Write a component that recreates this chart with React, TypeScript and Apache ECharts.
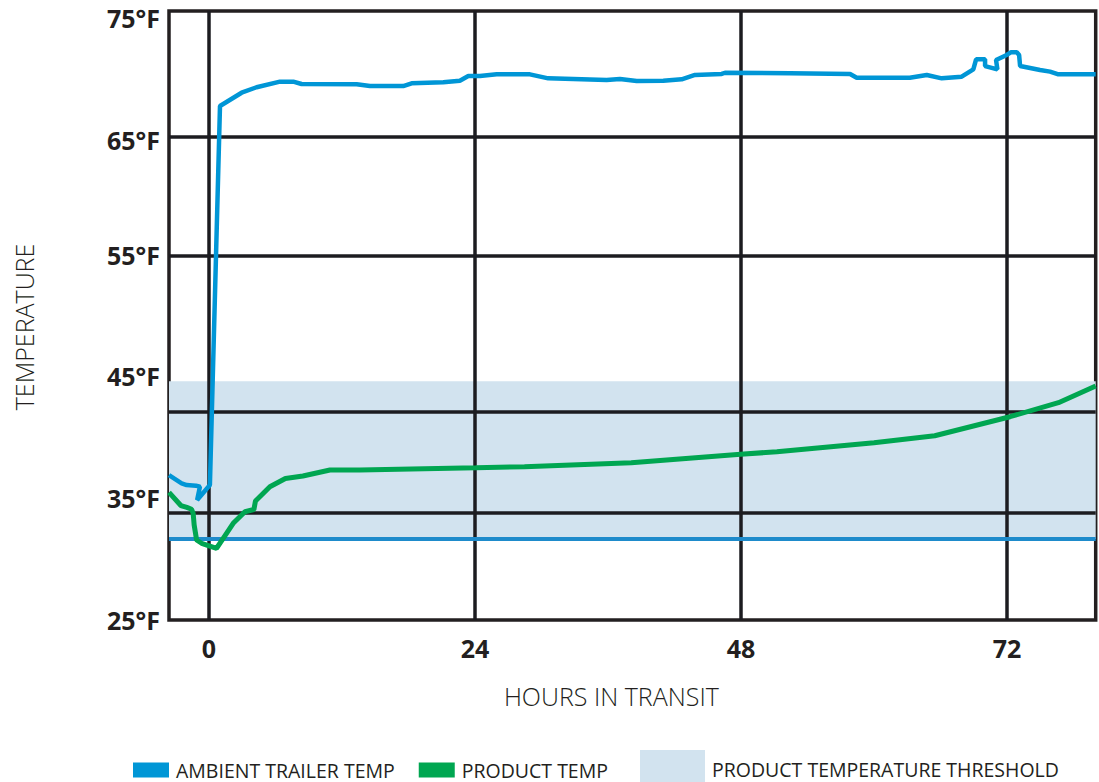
import React, { useEffect, useRef } from "react";
import * as echarts from "echarts";

// ---- data ----
const hourTicks = [0, 24, 48, 72];
const lowerTempTicks = [25, 35, 45, 55];
const upperTempTicks = [65, 75];
const hourRange = [-3.6, 80];
const tempRange = [25, 75];

const ambientHours = [
  -3.6, -2.46, -2.01, -1.17, -0.81, -1.06, 0.09, 1.0, 2.95, 4.3, 6.41, 7.61, 8.36, 13.33, 14.53,
  17.53, 18.29, 21.14, 22.64, 23.4, 24.45, 25.96, 28.96, 30.61, 35.88, 37.08, 38.59, 40.99, 42.65,
  43.85, 46.26, 46.56, 52.42, 57.84, 58.44, 63.23, 64.76, 66.11, 67.91, 68.96, 69.21, 70.02, 70.02,
  71.13, 71.01, 71.97, 72.34, 72.88, 73.09, 73.18, 74.98, 75.88, 76.63, 80,
];
const ambientTemps = [
  36.9, 36.22, 36.08, 36.03, 35.94, 34.85, 36.08, 67.2, 68.29, 68.74, 69.2, 69.2, 69.01, 68.98, 68.84,
  68.84, 69.06, 69.15, 69.28, 69.66, 69.66, 69.8, 69.8, 69.47, 69.33, 69.42, 69.25, 69.28, 69.39,
  69.75, 69.83, 69.93, 69.89, 69.83, 69.52, 69.52, 69.75, 69.47, 69.61, 70.21, 71.03, 71.03, 70.48,
  70.21, 70.98, 71.39, 71.61, 71.61, 71.39, 70.48, 70.16, 70.02, 69.8, 69.8,
];

const productHours = [
  -3.6, -2.53, -1.99, -1.56, -1.42, -1.33, -1.11, -0.66, 0.69, 1.29, 2.19, 3.25, 4.06, 4.2, 5.5,
  6.9, 8.48, 10.92, 13.62, 24.09, 28.47, 38.1, 47.96, 51.24, 60.0, 65.48, 72.27, 76.64, 80,
];
const productTemps = [
  35.48, 34.4, 34.24, 34.09, 33.76, 32.8, 31.57, 31.3, 30.89, 31.71, 32.94, 33.89, 34.07, 34.77, 35.94,
  36.62, 36.82, 37.32, 37.32, 37.5, 37.59, 37.91, 38.6, 38.82, 39.56, 40.13, 41.69, 42.84, 44.21,
];

const thresholdRange = [31.65, 44.6];
const horizontalRules = [64.7, 54.9, 42.1, 33.8];
const verticalRules = [0, 24, 48, 72];

const seriesNames = ["AMBIENT TRAILER TEMP", "PRODUCT TEMP", "PRODUCT TEMPERATURE THRESHOLD"];

const FONT = "'Open Sans', 'Noto Sans', sans-serif";
const INK = "#231f20";

export default function App() {
  const ref = useRef<HTMLDivElement>(null);

  useEffect(() => {
    if (!ref.current) return;
    const chart = echarts.init(ref.current, null, { renderer: "svg" });
    const zip = (xs: number[], ys: number[]) => xs.map((x, i) => [x, ys[i]]);

    const tempLabelBase = {
      formatter: (v: number) => `${v}°F`,
      fontFamily: FONT,
      fontSize: 25,
      fontWeight: "bold",
      color: INK,
      margin: 9,
    };

    chart.setOption({
      animation: false,
      grid: {
        left: 169,
        right: 3.3,
        top: 11,
        bottom: 162,
        show: true,
        borderColor: INK,
        borderWidth: 3.5,
      },
      legend: [
        {
          data: [seriesNames[0], seriesNames[1]],
          left: 133,
          top: 760,
          padding: 0,
          itemWidth: 36,
          itemHeight: 15,
          itemGap: 24,
          icon: "rect",
          selectedMode: false,
          textStyle: { fontFamily: FONT, fontSize: 19.5, color: INK, padding: [0, 0, 0, 2] },
        },
        {
          data: [seriesNames[2]],
          left: 640,
          top: 750,
          padding: 0,
          itemWidth: 65,
          itemHeight: 32,
          icon: "rect",
          selectedMode: false,
          formatter: "{t|{name}}",
          textStyle: {
            fontFamily: FONT,
            fontSize: 19.5,
            color: INK,
            rich: {
              t: {
                fontFamily: FONT,
                fontSize: 19.5,
                color: INK,
                padding: [7, 0, 0, 2],
              },
            },
          },
        },
      ],
      xAxis: {
        type: "value",
        min: hourRange[0],
        max: hourRange[1],
        name: "HOURS IN TRANSIT",
        nameLocation: "middle",
        nameGap: 63,
        nameTextStyle: {
          fontFamily: FONT,
          fontSize: 25,
          fontWeight: 300,
          color: INK,
          padding: [0, 42, 0, 0],
        },
        axisLine: { show: false },
        axisTick: { show: false, customValues: hourTicks },
        splitLine: { show: false },
        axisLabel: {
          customValues: hourTicks,
          fontFamily: FONT,
          fontSize: 25,
          fontWeight: "bold",
          color: INK,
          margin: 15,
        },
      },
      yAxis: [
        {
          type: "value",
          min: tempRange[0],
          max: tempRange[1],
          name: "TEMPERATURE",
          nameLocation: "middle",
          nameGap: 133,
          nameRotate: 90,
          nameTextStyle: {
            fontFamily: FONT,
            fontSize: 25,
            fontWeight: 300,
            color: INK,
            padding: [0, 23, 0, 0],
          },
          axisLine: { show: false },
          axisTick: { show: false, customValues: lowerTempTicks },
          splitLine: { show: false },
          axisLabel: {
            customValues: lowerTempTicks,
            ...tempLabelBase,
            lineHeight: 14,
            padding: [6, 0, 0, 0],
          },
        },
        {
          type: "value",
          position: "left",
          offset: 0,
          min: tempRange[0],
          max: tempRange[1],
          axisLine: { show: false },
          axisTick: { show: false, customValues: upperTempTicks },
          splitLine: { show: false },
          axisLabel: {
            customValues: upperTempTicks,
            ...tempLabelBase,
            verticalAlign: "top",
            lineHeight: 14,
          },
        },
      ],
      series: [
        {
          name: seriesNames[2],
          type: "line",
          data: [],
          color: "#d2e3ef",
          silent: true,
          markArea: {
            silent: true,
            z: 1,
            itemStyle: { color: "#d2e3ef" },
            data: [[{ yAxis: thresholdRange[1] }, { yAxis: thresholdRange[0] }]],
          },
          markLine: {
            silent: true,
            z: 3,
            symbol: ["none", "none"],
            label: { show: false },
            lineStyle: { color: "#1e8bcb", width: 4, type: "solid" },
            data: [{ yAxis: thresholdRange[0] }],
          },
        },
        {
          name: "_rules",
          type: "line",
          data: [],
          silent: true,
          markLine: {
            silent: true,
            z: 2,
            symbol: ["none", "none"],
            label: { show: false },
            lineStyle: { color: "#1c1c20", width: 3.5, type: "solid" },
            data: [
              ...horizontalRules.map((v) => ({ yAxis: v })),
              ...verticalRules.map((v) => ({ xAxis: v })),
            ],
          },
        },
        {
          name: seriesNames[0],
          type: "line",
          z: 10,
          color: "#0096d6",
          symbol: "none",
          lineStyle: { width: 4.5, color: "#0096d6" },
          data: zip(ambientHours, ambientTemps),
        },
        {
          name: seriesNames[1],
          type: "line",
          z: 10,
          color: "#00a651",
          symbol: "none",
          lineStyle: { width: 5, color: "#00a651" },
          data: zip(productHours, productTemps),
        },
      ],
    });

    return () => chart.dispose();
  }, []);

  return (
    <div
      ref={ref}
      style={{ position: "absolute", left: 0, top: 0, width: 1099, height: 782 }}
    />
  );
}
